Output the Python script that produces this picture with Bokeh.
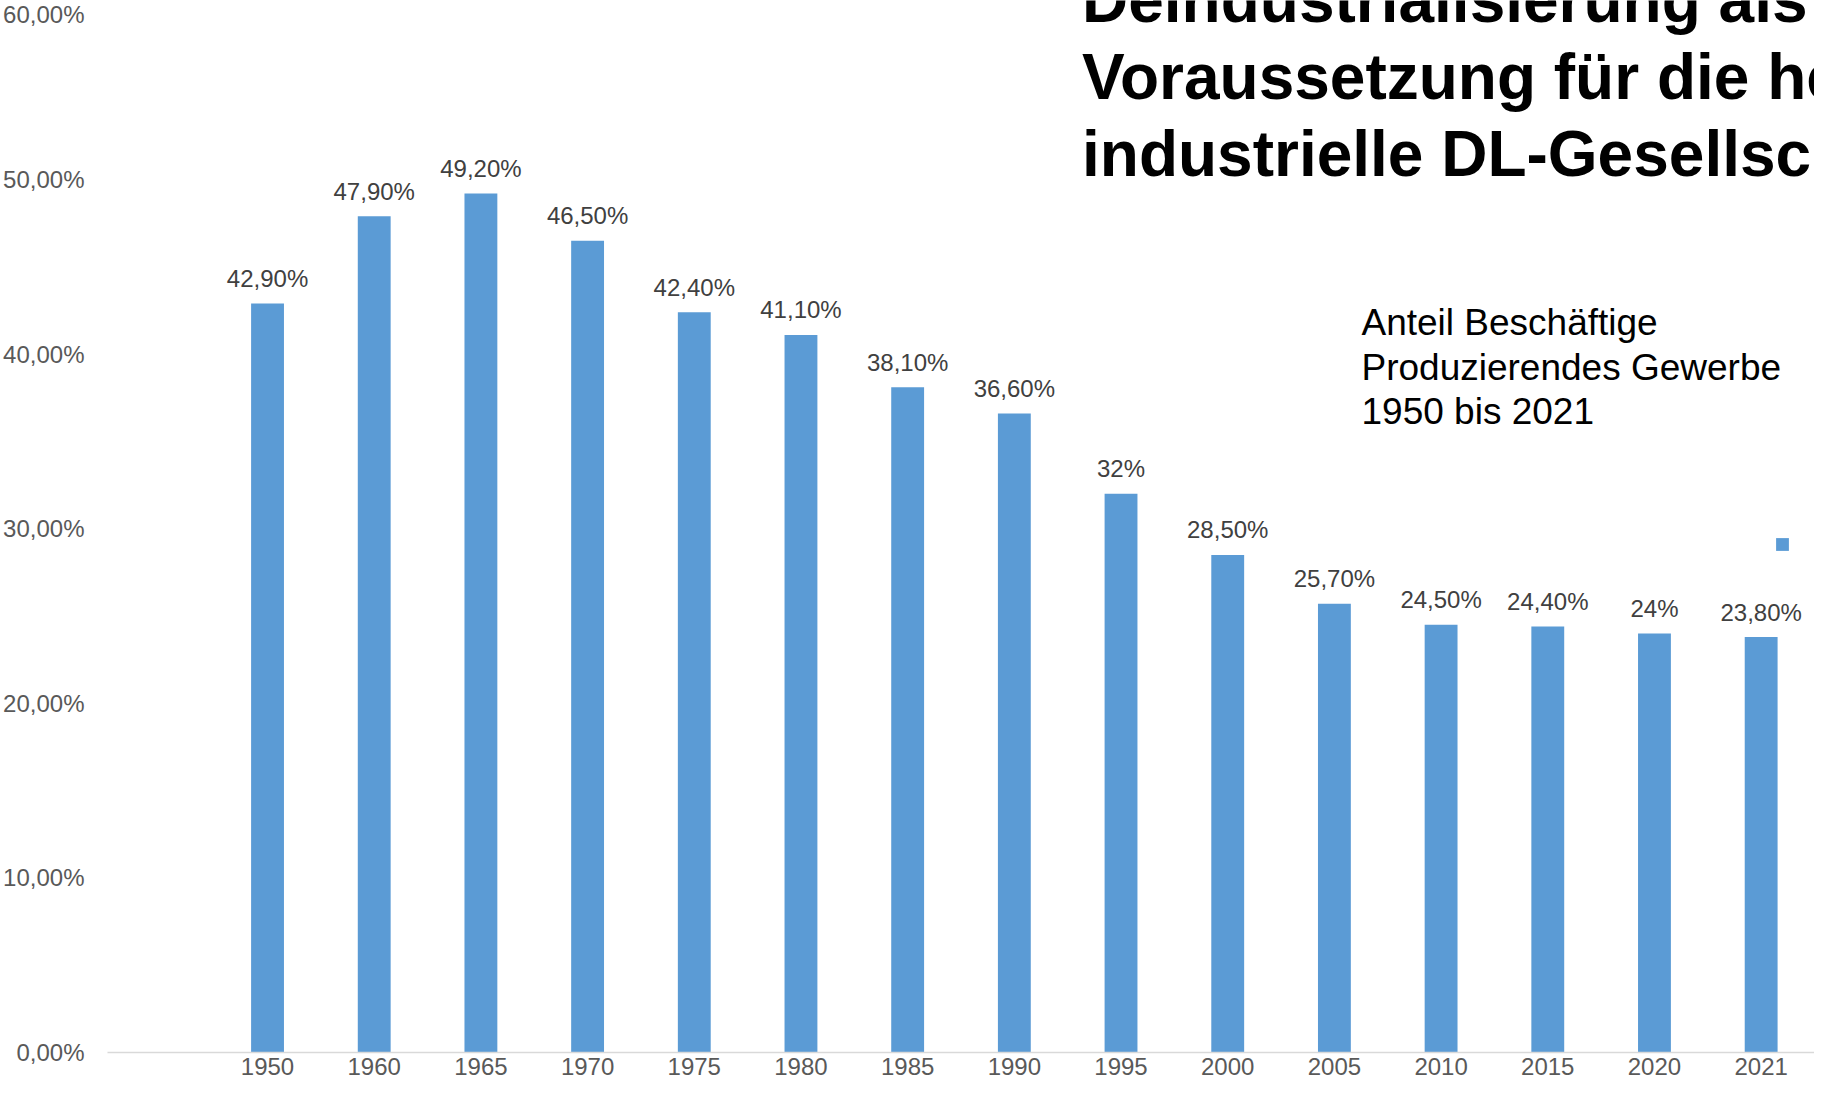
from bokeh.plotting import figure
from bokeh.models import (ColumnDataSource, LabelSet, Label, Legend, LegendItem,
                          CustomJSTickFormatter, FixedTicker, FactorRange, Range1d)
from bokeh.core.properties import value
from bokeh.embed import file_html
from bokeh.resources import INLINE

# ---- data ----
years = ["1950", "1960", "1965", "1970", "1975", "1980", "1985", "1990",
         "1995", "2000", "2005", "2010", "2015", "2020", "2021"]
shares = [0.429, 0.479, 0.492, 0.465, 0.424, 0.411, 0.381, 0.366,
          0.320, 0.285, 0.257, 0.245, 0.244, 0.240, 0.238]
bar_labels = ["42,90%", "47,90%", "49,20%", "46,50%", "42,40%", "41,10%", "38,10%",
              "36,60%", "32%", "28,50%", "25,70%", "24,50%", "24,40%", "24%", "23,80%"]
y_ticks = [0.0, 0.1, 0.2, 0.3, 0.4, 0.5, 0.6]
title_lines = ["Deindustrialisierung als", "Voraussetzung für die heutige",
               "industrielle DL-Gesellschaft"]
subtitle_lines = ["Anteil Beschäftige", "Produzierendes Gewerbe", "1950 bis 2021"]

FONT = "Liberation Sans"
BAR = "#5b9bd5"

factors = [" "] + years
src = ColumnDataSource(dict(year=years, share=shares, label=bar_labels))

p = figure(x_range=FactorRange(factors=factors), y_range=Range1d(0, 0.6026),
           width=1814, height=1082, output_backend="svg", toolbar_location=None,
           min_border_left=0, min_border_right=0, min_border_top=0, min_border_bottom=0)
p.outline_line_color = None
p.xgrid.visible = False
p.ygrid.visible = False

r = p.vbar(x="year", top="share", width=0.308, source=src,
           fill_color=BAR, line_color=None)

p.add_layout(LabelSet(x="year", y="share", text="label", source=src,
                      y_offset=25, text_align="center", text_baseline="middle",
                      text_font=value(FONT), text_font_size="24px", text_color="#404040"))

# axes
p.yaxis.ticker = FixedTicker(ticks=y_ticks)
p.yaxis.formatter = CustomJSTickFormatter(
    code="return (tick*100).toFixed(2).replace('.', ',') + '%';")
p.yaxis.axis_line_color = None
p.yaxis.major_tick_line_color = None
p.yaxis.minor_tick_line_color = None
p.yaxis.major_tick_out = 0
p.yaxis.major_tick_in = 0
p.yaxis.minor_tick_out = 0
p.yaxis.minor_tick_in = 0
p.yaxis.major_label_standoff = 23
p.yaxis.major_label_text_font = FONT
p.yaxis.major_label_text_font_size = "24px"
p.yaxis.major_label_text_color = "#595959"

p.xaxis.axis_line_color = "#d9d9d9"
p.xaxis.axis_line_width = 1.5
p.xaxis.major_tick_line_color = None
p.xaxis.minor_tick_line_color = None
p.xaxis.major_tick_out = 0
p.xaxis.major_tick_in = 0
p.xaxis.minor_tick_out = 0
p.xaxis.minor_tick_in = 0
p.xaxis.major_label_standoff = 0
p.xaxis.major_label_text_font = FONT
p.xaxis.major_label_text_font_size = "24px"
p.xaxis.major_label_text_color = "#595959"

# title (clipped at the right edge like the reference)
title_y = [1052.7, 975.7, 898.7]
for line, ty in zip(title_lines, title_y):
    p.add_layout(Label(x=974.5, y=ty, x_units="screen", y_units="screen",
                       text=line, text_font=FONT, text_font_size="64px",
                       text_font_style="bold", text_color="#000000",
                       text_baseline="alphabetic"))

sub_y = [729.7, 685.2, 640.7]
for line, sy in zip(subtitle_lines, sub_y):
    p.add_layout(Label(x=1254, y=sy, x_units="screen", y_units="screen",
                       text=line, text_font=FONT, text_font_size="37px",
                       text_color="#000000", text_baseline="alphabetic"))

legend = Legend(items=[LegendItem(label=" ", renderers=[r])], location=(1667.4, 500.1),
                glyph_width=16, glyph_height=16, label_height=16, label_width=0,
                label_standoff=0, padding=0, margin=0, spacing=0,
                border_line_color=None, background_fill_alpha=0,
                label_text_font_size="1px")
p.add_layout(legend)

open("out.html", "w").write(file_html(p, INLINE))
